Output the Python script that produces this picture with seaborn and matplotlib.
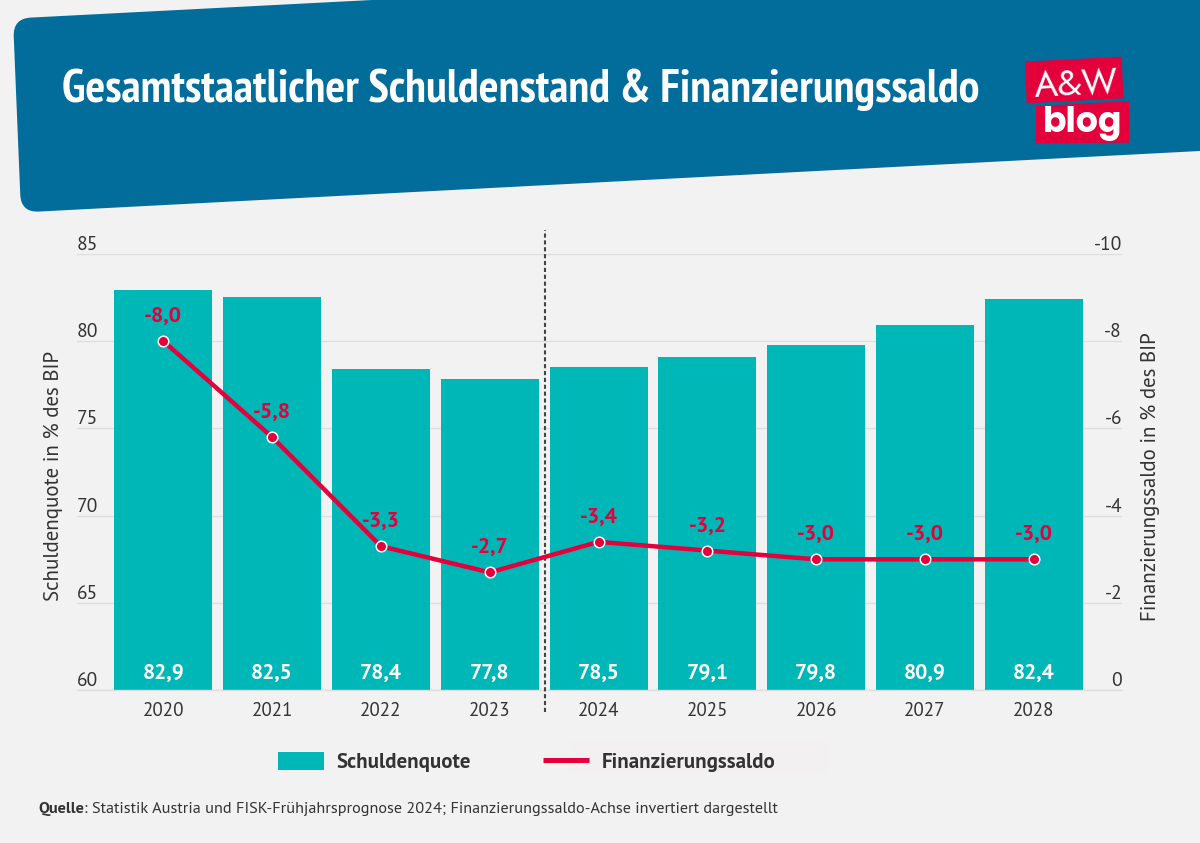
import matplotlib
matplotlib.use("Agg")
import matplotlib.pyplot as plt
import seaborn as sns
import pandas as pd
import numpy as np
from matplotlib.path import Path
from matplotlib.patches import PathPatch, Polygon, Rectangle, Patch
from matplotlib.lines import Line2D

years = ['2020', '2021', '2022', '2023', '2024', '2025', '2026', '2027', '2028']
schuldenquote = [82.9, 82.5, 78.4, 77.8, 78.5, 79.1, 79.8, 80.9, 82.4]
finanzierungssaldo = [-8.0, -5.8, -3.3, -2.7, -3.4, -3.2, -3.0, -3.0, -3.0]
left_ticks = [60, 65, 70, 75, 80, 85]
right_ticks = [0, -2, -4, -6, -8, -10]

BG = '#F2F2F2'
BLUE = '#026C9A'
TEAL = '#00B7B8'
RED = '#E4003A'
DARK = '#333333'

sns.set_style('white')
plt.rcParams['font.family'] = ['PT Sans', 'Open Sans', 'DejaVu Sans']
plt.rcParams['axes.unicode_minus'] = False

fig = plt.figure(figsize=(12, 8.43), dpi=100, facecolor=BG)

# pixel overlay for header, logo and source
bg = fig.add_axes([0, 0, 1, 1], zorder=0)
bg.set_xlim(0, 1200)
bg.set_ylim(843, 0)
bg.axis('off')


def rounded_header(corners, radius):
    verts, codes = [], []
    n = len(corners)
    for i, (p, r) in enumerate(zip(corners, radius)):
        p = np.array(p, float)
        prev = np.array(corners[i - 1], float)
        nxt = np.array(corners[(i + 1) % n], float)
        a = p + (prev - p) / np.linalg.norm(prev - p) * r
        b = p + (nxt - p) / np.linalg.norm(nxt - p) * r
        verts += [a, p, b]
        codes += [Path.LINETO if i else Path.MOVETO, Path.CURVE3, Path.CURVE3]
    verts.append(verts[0])
    codes.append(Path.CLOSEPOLY)
    return Path(verts, codes)


header = rounded_header([(13, 18.5), (372, 0), (1200, 0), (1200, 151), (21, 212.5)],
                        [18, 0.01, 0.01, 0.01, 18])
bg.add_patch(PathPatch(header, fc=BLUE, ec='none'))
bg.text(62, 102, 'Gesamtstaatlicher Schuldenstand & Finanzierungssaldo', color='white',
        fontsize=33.5, fontweight='bold', family=['PT Sans Narrow', 'Open Sans', 'DejaVu Sans'],
        va='baseline', ha='left')

# logo
bg.add_patch(Polygon([(1025, 61.7), (1121.7, 56.7), (1123.3, 98.3), (1026.7, 103.3)], fc=RED, ec='none'))
bg.add_patch(Polygon([(1036, 106), (1129, 101), (1129, 142.7), (1036, 143.3)], fc=RED, ec='none'))
bg.text(1077, 95, 'A&W', color='white', fontsize=26, family=['Jost', 'Open Sans'], ha='center',
        va='baseline', rotation=3, rotation_mode='anchor')
bg.text(1083, 132, 'blog', color='white', fontsize=25, fontweight='bold', family=['Poppins', 'Open Sans'],
        ha='center', va='baseline')

# faint box behind the second legend entry
bg.add_patch(Rectangle((570, 741), 258, 31.5, fc='#F2F0F1', ec='none'))

# main axes
ax = fig.add_axes([77 / 1200, (843 - 690.3) / 843, 1045 / 1200, 436.6 / 843], zorder=1)
ax.patch.set_alpha(0)

df = pd.DataFrame({'jahr': years, 'quote': schuldenquote, 'saldo': finanzierungssaldo})

sns.barplot(data=df, x='jahr', y='quote', color=TEAL, saturation=1, width=0.9, ax=ax, zorder=2, linewidth=0)
ax.set_xlim(-0.793, 8.81)
ax.set_ylim(60, 85)
ax.set_yticks(left_ticks)
ax.yaxis.grid(True, color='#DEDEDE', lw=1.0, zorder=0)
ax.set_axisbelow(True)
ax.tick_params(axis='x', length=0, pad=8.5, labelsize=13.7, labelcolor=DARK)
ax.tick_params(axis='y', length=0, pad=0, labelsize=14, labelcolor=DARK)
for lab in ax.get_yticklabels():
    lab.set_ha('left')
    lab.set_va('bottom')
ax.set_xlabel('')
ax.set_ylabel('Schuldenquote in % des BIP', fontsize=15, color=DARK)
ax.yaxis.set_label_coords(-0.013, 0.49)
sns.despine(ax=ax, left=True, right=True, top=True)
ax.spines['bottom'].set_color('#DEDEDE')
ax.spines['bottom'].set_linewidth(1.0)

for i, v in enumerate(schuldenquote):
    ax.annotate(f'{v:.1f}'.replace('.', ','), xy=(i, 60), xytext=(0, 8.5), textcoords='offset points',
                ha='center', va='baseline', color='white', fontsize=15.5, fontweight='bold', zorder=4)

# separator between actual values and forecast
ax.plot([3.51, 3.51], [-0.05, 1.054], transform=ax.get_xaxis_transform(), clip_on=False,
        color='#444444', lw=1.5, ls=(0, (2.0, 1.3)), zorder=3)

# saldo on inverted right axis
ax2 = ax.twinx()
ax2.patch.set_alpha(0)
sns.lineplot(data=df, x='jahr', y='saldo', color=RED, lw=3.2, ax=ax2, sort=False, zorder=5,
             marker='o', markersize=7.6, markerfacecolor=RED, markeredgecolor='white',
             markeredgewidth=1.1, errorbar=None)
ax2.set_ylim(0, -10)
ax2.set_yticks(right_ticks)
ax2.set_yticklabels([str(t) for t in right_ticks])
ax2.tick_params(axis='y', length=0, pad=0, labelsize=14, labelcolor=DARK)
for lab in ax2.get_yticklabels():
    lab.set_ha('right')
    lab.set_va('bottom')
ax2.set_ylabel('Finanzierungssaldo in % des BIP', fontsize=15, color=DARK, rotation=90)
ax2.yaxis.set_label_coords(1.018, 0.49)
ax2.set_xlabel('')
for s in ax2.spines.values():
    s.set_visible(False)

for i, v in enumerate(finanzierungssaldo):
    ax2.annotate(f'{v:.1f}'.replace('.', ','), xy=(i, v), xytext=(0, 13.8), textcoords='offset points',
                 ha='center', va='baseline', color=RED, fontsize=15.7, fontweight='bold', zorder=6)

# legend
handles = [Patch(fc=TEAL, ec='none'), Line2D([0], [0], color=RED, lw=3.6, solid_capstyle='butt')]
leg = fig.legend(handles, ['Schuldenquote', 'Finanzierungssaldo'], ncol=2, frameon=False,
                 loc='center left', bbox_to_anchor=(278 / 1200, 1 - 762 / 843), borderpad=0, borderaxespad=0,
                 prop={'size': 15, 'weight': 'bold'}, labelcolor=DARK, handlelength=2.19,
                 handleheight=0.95, handletextpad=0.6, columnspacing=3.5)

# source line
q = bg.text(38, 813, 'Quelle', color=DARK, fontsize=11.7, fontweight='bold', va='baseline')
bg.annotate(': Statistik Austria und FISK-Frühjahrsprognose 2024; Finanzierungssaldo-Achse invertiert dargestellt',
            xy=(1, 0), xycoords=q, va='bottom', ha='left', color=DARK, fontsize=11.7)

fig.savefig('out.png', dpi=100, facecolor=BG)
